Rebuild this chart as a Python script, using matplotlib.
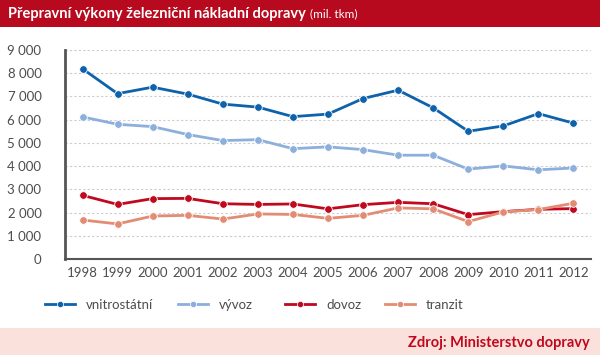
import matplotlib.pyplot as plt
from matplotlib.patches import Rectangle
from matplotlib.lines import Line2D

plt.rcParams['font.family'] = ['Lato', 'DejaVu Sans']

# data (mil. tkm)
years = [1998, 1999, 2000, 2001, 2002, 2003, 2004, 2005, 2006, 2007, 2008, 2009, 2010, 2011, 2012]
vnitrostatni = [8190, 7120, 7400, 7100, 6670, 6540, 6130, 6240, 6910, 7270, 6510, 5500, 5730, 6260, 5850]
vyvoz = [6120, 5800, 5700, 5360, 5100, 5140, 4750, 4830, 4710, 4470, 4470, 3870, 4010, 3840, 3920]
dovoz = [2740, 2350, 2600, 2610, 2380, 2350, 2370, 2160, 2340, 2440, 2380, 1910, 2040, 2140, 2170]
tranzit = [1680, 1510, 1850, 1880, 1720, 1940, 1920, 1750, 1880, 2200, 2160, 1610, 2030, 2130, 2400]

series = [
    ("vnitrostátní", vnitrostatni, "#0d62ab"),
    ("vývoz", vyvoz, "#8cafdc"),
    ("dovoz", dovoz, "#c0081f"),
    ("tranzit", tranzit, "#e38c74"),
]
yticks = [0, 1000, 2000, 3000, 4000, 5000, 6000, 7000, 8000, 9000]

fig = plt.figure(figsize=(6, 3.55), dpi=100)

# title bar
fig.patches.append(Rectangle((0, 1 - 27 / 355), 1, 27 / 355, transform=fig.transFigure,
                             facecolor="#b80a1e", edgecolor="none"))
fig.text(8 / 600, 1 - 14 / 355, "Přepravní výkony železniční nákladní dopravy",
         color="white", fontsize=10.5, fontweight="bold", va="center", ha="left")
fig.text(310 / 600, 1 - 14 / 355, "(mil. tkm)", color="white", fontsize=8.5,
         va="center", ha="left")

# footer
fig.patches.append(Rectangle((0, 0), 1, 27 / 355, transform=fig.transFigure,
                             facecolor="#fbe1db", edgecolor="none"))
fig.text(590 / 600, 12 / 355, "Zdroj: Ministerstvo dopravy", color="#c0081f",
         fontsize=10.5, fontweight="bold", va="center", ha="right")

ax = fig.add_axes([65 / 600, 96 / 355, 526 / 600, 209 / 355])

for name, vals, col in series:
    ax.plot(years, vals, color=col, lw=2, marker="o", ms=5.5,
            markeredgecolor="white", markeredgewidth=0.6, zorder=3)

ax.set_xlim(1997.5, 2012.5)
ax.set_ylim(0, 9000)
ax.set_xticks(years)
ax.set_xticklabels([str(y) for y in years])
ax.set_yticks(yticks)
ax.set_yticklabels([f"{v:,}".replace(",", " ") for v in yticks])
ax.tick_params(length=0, labelsize=9.5, colors="#4d4d4d")
ax.tick_params(axis="y", pad=17)
ax.tick_params(axis="x", pad=6)

ax.grid(axis="y", color="#cccccc", lw=0.8, ls=(0, (2, 2)))
ax.set_axisbelow(True)
for s in ["top", "right"]:
    ax.spines[s].set_visible(False)
ax.spines["left"].set_color("#555555")
ax.spines["left"].set_linewidth(2)
ax.spines["bottom"].set_color("#555555")
ax.spines["bottom"].set_linewidth(1.5)

# legend: one entry per position
legend_x = [45, 178, 285, 385]
for (name, _, col), lx in zip(series, legend_x):
    h = Line2D([0], [0], color=col, lw=2, marker="o", ms=4.5, markeredgecolor="white",
               markeredgewidth=0.5)
    fig.legend([h], [name], loc="center left", bbox_to_anchor=(lx / 600, 1 - 305 / 355),
               frameon=False, fontsize=9.5, handlelength=2.3, handletextpad=0.8,
               borderpad=0, borderaxespad=0, labelcolor="#4d4d4d")

fig.savefig("out.png", dpi=100)
